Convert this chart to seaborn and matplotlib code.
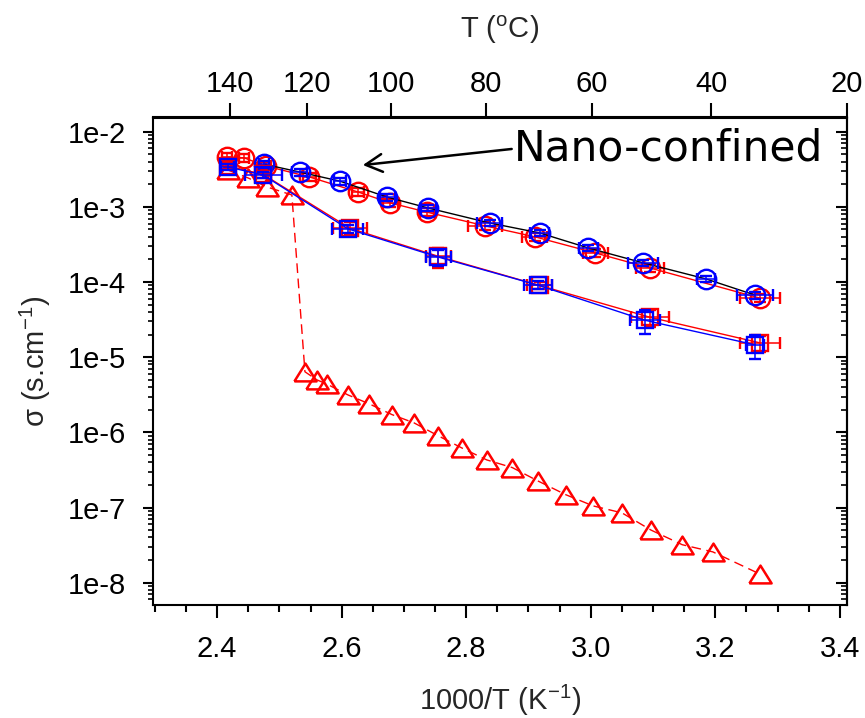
import numpy as np
import pandas as pd
import matplotlib
matplotlib.use("Agg")
import matplotlib.pyplot as plt
import matplotlib.ticker as mticker
import seaborn as sns

# ---------------- data (1000/T in K^-1, sigma in S/cm) ----------------
rc_x = [2.416, 2.443, 2.478, 2.548, 2.626, 2.678, 2.737, 2.830, 2.910, 3.007, 3.095, 3.272]
rc_y = [4.6e-3, 4.5e-3, 3.5e-3, 2.5e-3, 1.58e-3, 1.13e-3, 8.5e-4, 5.6e-4, 4.0e-4, 2.44e-4, 1.54e-4, 6.1e-5]
rc_xerr = [0.008, 0.008, 0.008, 0.010, 0.010, 0.012, 0.012, 0.027, 0.020, 0.020, 0.022, 0.032]
rc_yfrac = [0.12] * 12

bc_x = [2.475, 2.533, 2.597, 2.673, 2.739, 2.838, 2.918, 2.996, 3.084, 3.185, 3.264]
bc_y = [3.7e-3, 2.9e-3, 2.2e-3, 1.35e-3, 9.65e-4, 6.1e-4, 4.5e-4, 2.84e-4, 1.8e-4, 1.1e-4, 6.7e-5]
bc_xerr = [0.008, 0.012, 0.010, 0.012, 0.012, 0.020, 0.015, 0.015, 0.024, 0.015, 0.029]
bc_yfrac = [0.10] * 11

bs_x = [2.417, 2.474, 2.610, 2.755, 2.915, 3.087, 3.264]
bs_y = [3.4e-3, 2.65e-3, 5.1e-4, 2.15e-4, 9.1e-5, 3.1e-5, 1.46e-5]
bs_xerr = [0.010, 0.030, 0.025, 0.020, 0.022, 0.024, 0.015]
bs_yfrac = [0.10, 0.10, 0.12, 0.25, 0.12, 0.35, 0.35]

rs_x = [2.417, 2.474, 2.613, 2.755, 2.918, 3.095, 3.272]
rs_y = [3.5e-3, 2.7e-3, 5.2e-4, 2.2e-4, 9.0e-5, 3.4e-5, 1.55e-5]
rs_xerr = [0.010, 0.012, 0.027, 0.020, 0.020, 0.030, 0.032]
rs_yfrac = [0.10, 0.10, 0.20, 0.30, 0.10, 0.25, 0.25]

tri_x = [2.417, 2.450, 2.480, 2.520, 2.541, 2.560, 2.576, 2.610, 2.644, 2.681, 2.716,
         2.755, 2.793, 2.833, 2.874, 2.915, 2.960, 3.004, 3.050, 3.097, 3.147, 3.196, 3.272]
tri_y = [3.1e-3, 2.42e-3, 1.84e-3, 1.44e-3, 6.4e-6, 5.0e-6, 4.4e-6, 3.15e-6, 2.4e-6, 1.72e-6, 1.34e-6,
         9.0e-7, 6.2e-7, 4.3e-7, 3.4e-7, 2.26e-7, 1.48e-7, 1.05e-7, 8.5e-8, 5.0e-8, 3.2e-8, 2.57e-8, 1.3e-8]

x_major = [2.4, 2.6, 2.8, 3.0, 3.2, 3.4]
y_major = [1e-8, 1e-7, 1e-6, 1e-5, 1e-4, 1e-3, 1e-2]
top_ticks_C = [140, 120, 100, 80, 60, 40, 20]

annot_text = "Nano-confined"
annot_tip = (2.634, 3.6e-3)
annot_tail = (2.873, 5.89e-3)
annot_pos = (2.877, 4.2e-3)

# ---------------- style ----------------
sns.set_style("ticks")
plt.rcParams["font.family"] = ["Liberation Sans", "DejaVu Sans"]
plt.rcParams["mathtext.fontset"] = "custom"
plt.rcParams["mathtext.rm"] = "Liberation Sans"
plt.rcParams["mathtext.it"] = "Liberation Sans:italic"
plt.rcParams["mathtext.default"] = "regular"
plt.rcParams["axes.edgecolor"] = "black"
plt.rcParams["xtick.color"] = "black"
plt.rcParams["ytick.color"] = "black"

FS = 21

fig = plt.figure(figsize=(8.65, 7.18), dpi=100)
ax = fig.add_axes([153 / 865, 1 - 605 / 718, 694 / 865, (605 - 117.5) / 718])
ax.set_yscale("log")
ax.set_xlim(2.297, 3.4115)
ax.set_ylim(5.05e-9, 1.545e-2)

def series(x, y, xerr, yfrac, color, line_color, marker, ms, z):
    df = pd.DataFrame({"x": x, "y": y})
    sns.lineplot(data=df, x="x", y="y", ax=ax, color=line_color, lw=1.0,
                 sort=False, estimator=None, legend=False, zorder=z)
    yv = np.array(y)
    ax.errorbar(x, y, xerr=xerr, yerr=np.array(yfrac) * yv, fmt=marker, ms=ms,
                mfc="none", mec=color, mew=1.7, ecolor=color, elinewidth=1.1,
                capsize=4, capthick=1.1, linestyle="none", zorder=z + 0.5)

series(rc_x, rc_y, rc_xerr, rc_yfrac, "#ff0000", "#ff0000", "o", 14, 3)
series(bc_x, bc_y, bc_xerr, bc_yfrac, "#0000ff", "black", "o", 14, 4)

# triangles (dashed)
tri_marker = [(-1, -0.8), (1, -0.8), (0, 0.8), (-1, -0.8)]
dft = pd.DataFrame({"x": tri_x, "y": tri_y})
sns.lineplot(data=dft, x="x", y="y", ax=ax, color="#ff0000", lw=1.0, sort=False,
             estimator=None, legend=False, marker=tri_marker, markersize=16,
             mfc="none", mec="#ff0000", mew=1.8, zorder=2)
ax.lines[-1].set_linestyle((0, (7, 4)))

series(rs_x, rs_y, rs_xerr, rs_yfrac, "#ff0000", "#ff0000", "s", 12, 5)
series(bs_x, bs_y, bs_xerr, bs_yfrac, "#0000ff", "#0000ff", "s", 12, 6)

ax.set_xlabel(None)
ax.set_ylabel(None)

# ---------------- axes & ticks ----------------
for sp in ax.spines.values():
    sp.set_linewidth(1.5)
    sp.set_color("black")

ax.xaxis.set_major_locator(mticker.FixedLocator(x_major))
ax.xaxis.set_major_formatter(mticker.FormatStrFormatter("%.1f"))
ax.xaxis.set_minor_locator(mticker.MultipleLocator(0.05))
ax.yaxis.set_major_locator(mticker.FixedLocator(y_major))
ax.yaxis.set_minor_locator(mticker.LogLocator(base=10, subs=np.arange(2, 10), numticks=20))
ax.yaxis.set_minor_formatter(mticker.NullFormatter())
ax.yaxis.set_major_formatter(
    mticker.FuncFormatter(lambda v, p: f"1e{int(np.round(np.log10(v)))}"))

ax.tick_params(axis="x", which="major", direction="out", length=9.5, width=1.5,
               labelsize=FS, pad=12, top=False)
ax.tick_params(axis="x", which="minor", direction="out", length=5, width=1.5, top=False)
ax.tick_params(axis="y", which="major", direction="out", length=7.2, width=1.5,
               labelsize=FS, pad=12, right=False)
ax.tick_params(axis="y", which="minor", direction="out", length=3.6, width=1.2, right=False)

# right-hand inward ticks
ry = ax.secondary_yaxis("right", functions=(lambda v: v, lambda v: v))
ry.yaxis.set_major_locator(mticker.FixedLocator(y_major))
ry.yaxis.set_minor_locator(mticker.LogLocator(base=10, subs=np.arange(2, 10), numticks=20))
ry.yaxis.set_major_formatter(mticker.NullFormatter())
ry.yaxis.set_minor_formatter(mticker.NullFormatter())
ry.tick_params(which="major", direction="in", length=8, width=1.5, labelright=False)
ry.tick_params(which="minor", direction="in", length=4, width=1.2, labelright=False)
ry.spines["right"].set_linewidth(1.5)

# top temperature axis
def k2c(x):
    with np.errstate(divide="ignore", invalid="ignore"):
        return 1000.0 / np.asarray(x, dtype=float) - 273.15

def c2k(t):
    with np.errstate(divide="ignore", invalid="ignore"):
        return 1000.0 / (np.asarray(t, dtype=float) + 273.15)

tx = ax.secondary_xaxis("top", functions=(k2c, c2k))
tx.xaxis.set_major_locator(mticker.FixedLocator(top_ticks_C))
tx.xaxis.set_minor_locator(mticker.NullLocator())
tx.xaxis.set_major_formatter(mticker.FormatStrFormatter("%d"))
tx.tick_params(which="major", direction="out", length=10, width=1.5, labelsize=FS, pad=4)
tx.spines["top"].set_linewidth(1.5)

# axis titles
fig.text(500 / 865, 1 - 700 / 718, "1000/T (K$^{-1}$)", ha="center", va="center", fontsize=FS)
fig.text(500 / 865, 1 - 30 / 718, "T ($^{o}$C)", ha="center", va="center", fontsize=FS)
fig.text(35 / 865, 1 - 361 / 718, "σ (s.cm$^{-1}$)", ha="center", va="center",
         rotation=90, fontsize=FS)

# annotation
ax.annotate("", xy=annot_tip, xytext=annot_tail, xycoords="data", textcoords="data",
            arrowprops=dict(arrowstyle="->,head_length=0.6,head_width=0.32",
                            mutation_scale=20, lw=1.8, color="black",
                            shrinkA=0, shrinkB=0), zorder=10)
ax.text(annot_pos[0], annot_pos[1], annot_text, ha="left", va="baseline",
        fontsize=30.5, family="DejaVu Sans", color="black", zorder=10)

fig.savefig("out.png", dpi=100)
